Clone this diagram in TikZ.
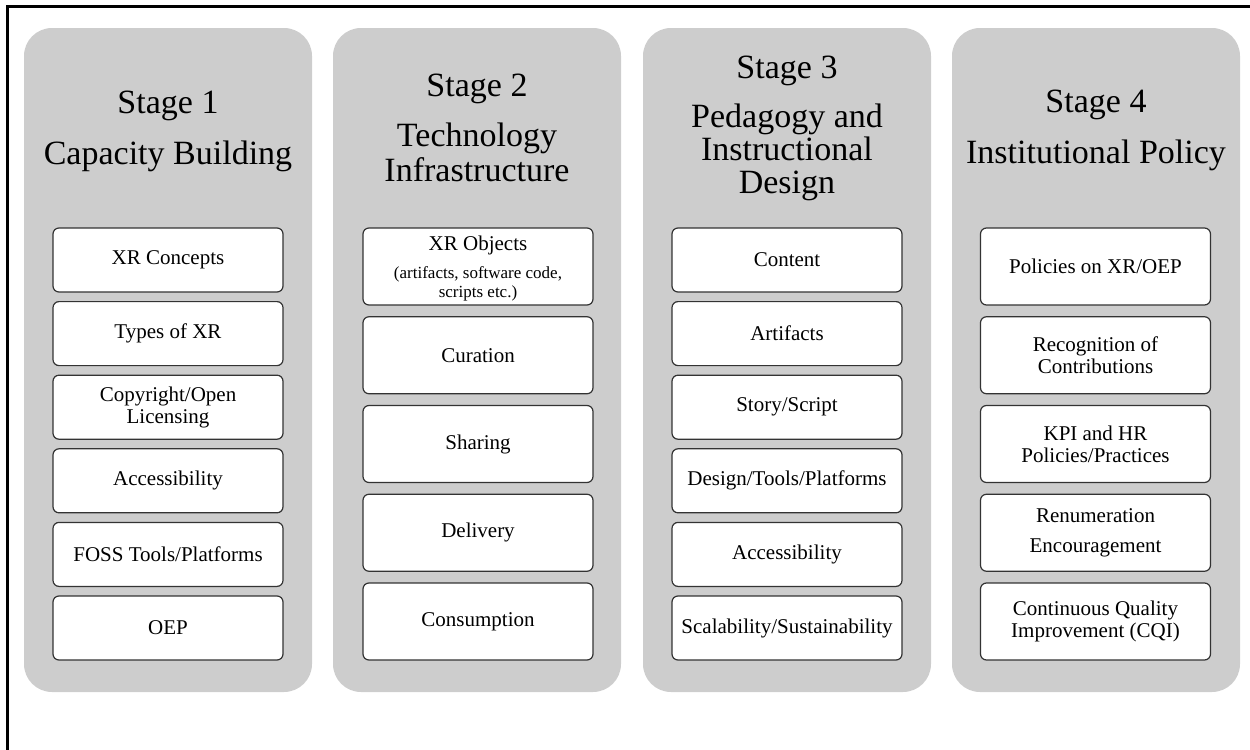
\documentclass[tikz,border=0pt]{standalone}
\usepackage{fontspec}
\setmainfont{Liberation Serif}
\definecolor{panelgray}{HTML}{CDCDCD}
\definecolor{boxline}{HTML}{333333}
\begin{document}
\begin{tikzpicture}[x=0.5pt,y=-0.5pt,
  panel/.style={fill=panelgray,draw=none,rounded corners=14pt,minimum width=144pt,minimum height=332pt,inner sep=0pt},
  item/.style={fill=white,draw=boxline,line width=0.6pt,rounded corners=3pt,minimum width=115pt,inner sep=1pt,align=center,font=\fontsize{10.5}{11}\selectfont},
  short/.style={item,minimum height=32pt},
  tall/.style={item,minimum height=38.5pt},
  title/.style={anchor=base,inner sep=0pt,font=\fontsize{17}{17}\selectfont},
  small/.style={anchor=base,inner sep=0pt,font=\fontsize{8.5}{9}\selectfont}]
\useasboundingbox (0,0) rectangle (1250,750);
% frame
\coordinate (fbl) at (7.5,750);
\coordinate (ftl) at (7.5,6.5);
\coordinate (ftr) at (1250,6.5);
\draw[line width=1.5pt,line cap=rect] (fbl) -- (ftl) -- (ftr);
% panels
\node[panel] (s1) at (168,360) {};
\node[panel] (s2) at (477,360) {};
\node[panel] (s3) at (787,360) {};
\node[panel] (s4) at (1096,360) {};
% titles
\node[title] (t1a) at (168,113) {Stage 1};
\node[title] (t1b) at (168,164) {Capacity Building};
\node[title] (t2a) at (477,96) {Stage 2};
\node[title] (t2b) at (477,146) {Technology};
\node[title] (t2c) at (477,181) {Infrastructure};
\node[title] (t3a) at (787,78) {Stage 3};
\node[title] (t3b) at (787,127) {Pedagogy and};
\node[title] (t3c) at (787,160) {Instructional};
\node[title] (t3d) at (787,193) {Design};
\node[title] (t4a) at (1096,112) {Stage 4};
\node[title] (t4b) at (1096,163) {Institutional Policy};
% stage 1
\node[short] (a1) at (168,260) {XR Concepts};
\node[short] (a2) at (168,333.6) {Types of XR};
\node[short] (a3) at (168,407.2) {Copyright/Open\\Licensing};
\node[short] (a4) at (168,480.8) {Accessibility};
\node[short] (a5) at (168,554.4) {FOSS Tools/Platforms};
\node[short] (a6) at (168,628) {OEP};
% stage 2
\node[tall] (b1) at (478,266.5) {};
\node[anchor=base,inner sep=0pt,font=\fontsize{10.5}{11}\selectfont] (b1t) at (478,250) {XR Objects};
\node[small] (b1s) at (478,278) {(artifacts, software code,};
\node[small] (b1u) at (478,297) {scripts etc.)};
\node[tall] (b2) at (478,355.25) {Curation};
\node[tall] (b3) at (478,444) {Sharing};
\node[tall] (b4) at (478,532.75) {Delivery};
\node[tall] (b5) at (478,621.5) {Consumption};
% stage 3
\node[short] (c1) at (787,260) {Content};
\node[short] (c2) at (787,333.6) {Artifacts};
\node[short] (c3) at (787,407.2) {Story/Script};
\node[short] (c4) at (787,480.8) {Design/Tools/Platforms};
\node[short] (c5) at (787,554.4) {Accessibility};
\node[short] (c6) at (787,628) {Scalability/Sustainability};
% stage 4
\node[tall] (d1) at (1095.5,266.5) {Policies on XR/OEP};
\node[tall] (d2) at (1095.5,355.25) {Recognition of\\Contributions};
\node[tall] (d3) at (1095.5,444) {KPI and HR\\Policies/Practices};
\node[tall] (d4) at (1095.5,532.75) {Renumeration\\[4pt]Encouragement};
\node[tall] (d5) at (1095.5,621.5) {Continuous Quality\\Improvement (CQI)};
\end{tikzpicture}
\end{document}
